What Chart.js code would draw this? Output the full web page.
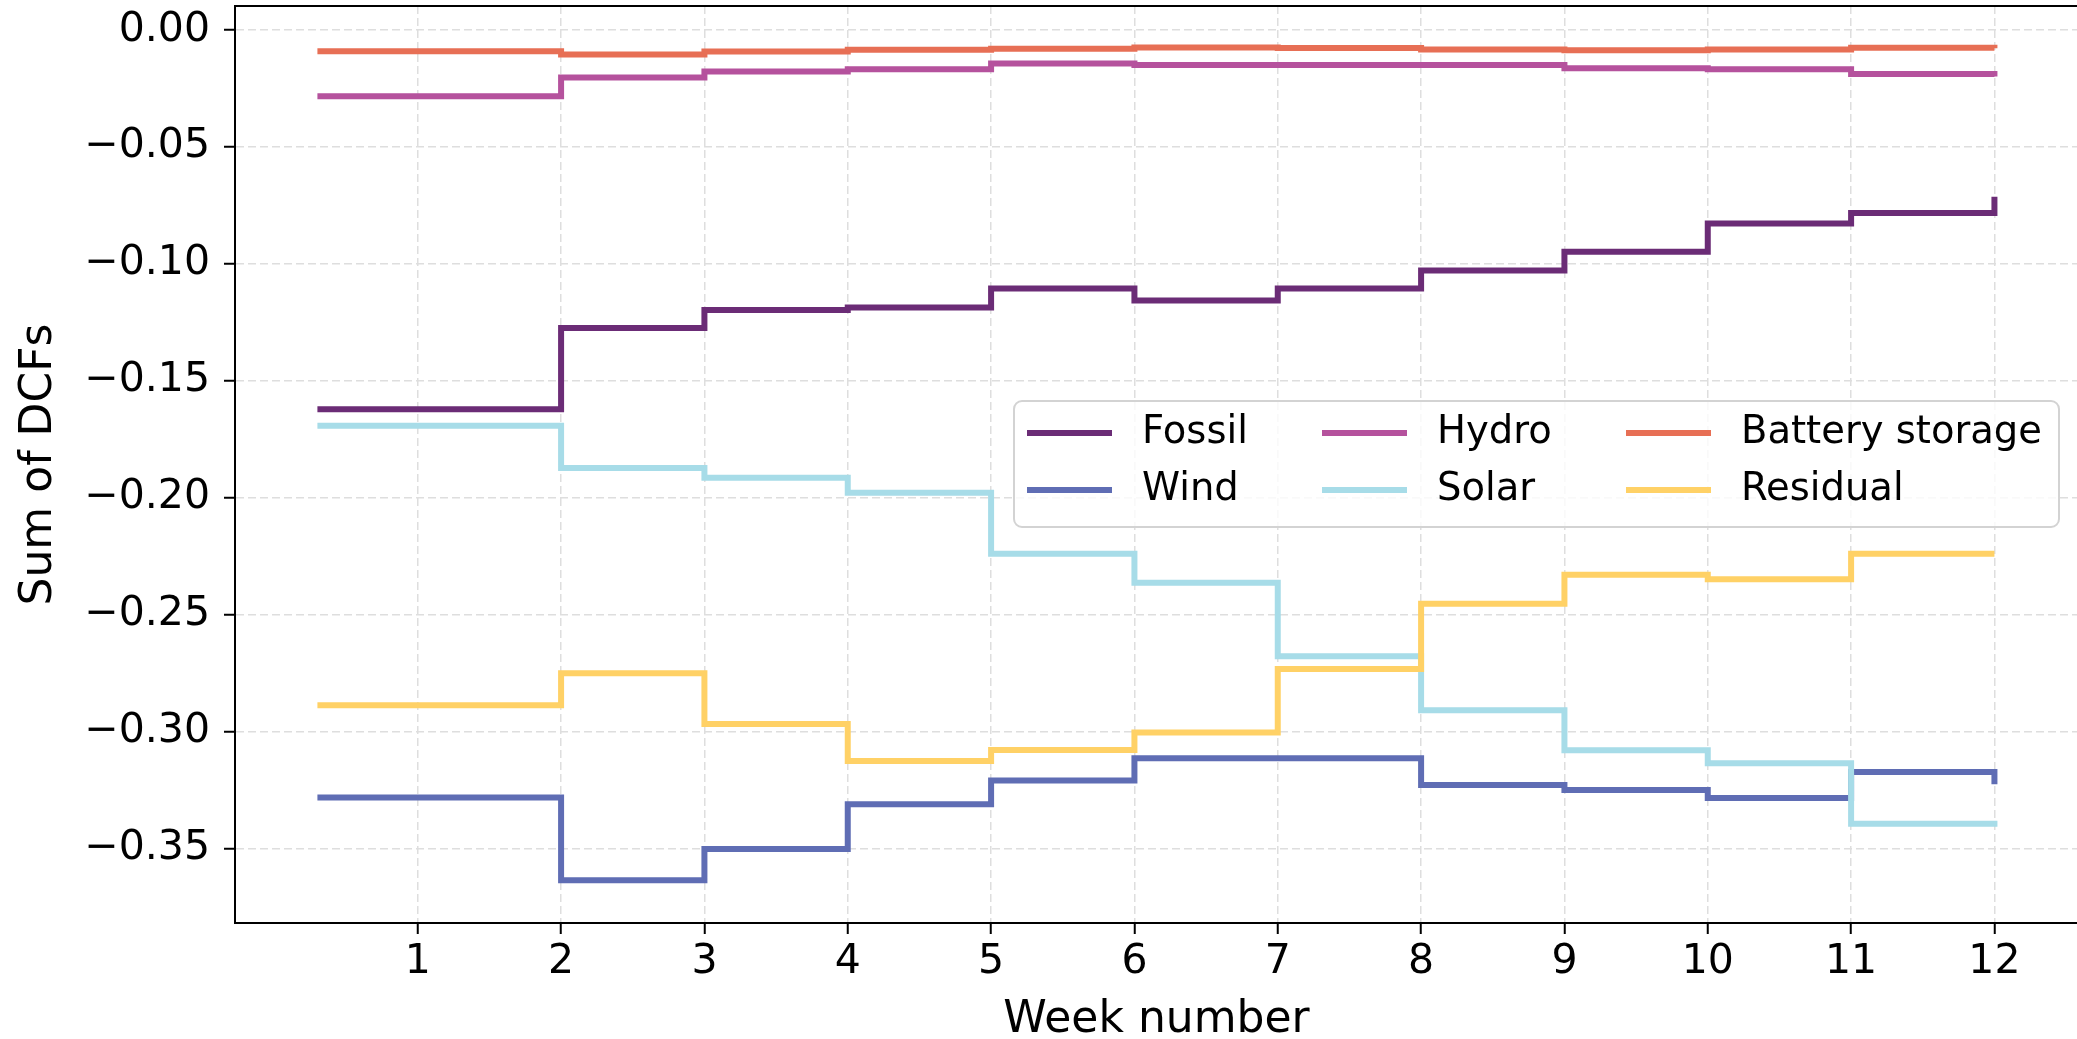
<!DOCTYPE html>
<html>
<head>
<meta charset="utf-8">
<title>Sum of DCFs by week</title>
<script src="https://cdn.jsdelivr.net/npm/chart.js@4.4.1/dist/chart.umd.min.js"></script>
<style>
  html, body { margin: 0; padding: 0; background: #fff; overflow: hidden; }
  #wrap { position: absolute; left: 0; top: 0; width: 2100px; height: 1039px; }
</style>
</head>
<body>
<div id="wrap"><canvas id="dcf-chart"></canvas></div>
<script>
// week positions of the step points (first point sits a bit before week 1)
const weeks = [0.3, 2, 3, 4, 5, 6, 7, 8, 9, 10, 11, 12];

const fossil   = [-0.1622, -0.1275, -0.1198, -0.1187, -0.1106, -0.1157, -0.1106, -0.1029, -0.0948, -0.0828, -0.0783, -0.0713];
const wind     = [-0.3281, -0.3635, -0.3502, -0.3310, -0.3209, -0.3114, -0.3114, -0.3228, -0.3249, -0.3284, -0.3173, -0.3225];
const hydro    = [-0.0284, -0.0204, -0.0178, -0.0168, -0.0144, -0.0150, -0.0150, -0.0150, -0.0164, -0.0168, -0.0189, -0.0199];
const solar    = [-0.1692, -0.1873, -0.1915, -0.1979, -0.2240, -0.2364, -0.2678, -0.2908, -0.3080, -0.3135, -0.3394, -0.3407];
const battery  = [-0.0091, -0.0105, -0.0092, -0.0085, -0.0081, -0.0075, -0.0078, -0.0084, -0.0087, -0.0084, -0.0077, -0.0079];
const residual = [-0.2887, -0.2750, -0.2967, -0.3125, -0.3078, -0.3004, -0.2732, -0.2453, -0.2329, -0.2348, -0.2240, -0.2240];

const seriesNames  = ['Fossil', 'Wind', 'Hydro', 'Solar', 'Battery storage', 'Residual'];
const seriesValues = [fossil, wind, hydro, solar, battery, residual];
const seriesColors = ['#6b2c76', '#5f6db4', '#b5529d', '#a7dce8', '#e76f55', '#ffd166'];

const xTicks = [1, 2, 3, 4, 5, 6, 7, 8, 9, 10, 11, 12];
const yTicks = [0, -0.05, -0.10, -0.15, -0.20, -0.25, -0.30, -0.35];

const FONT = 'DejaVu Sans';

const datasets = seriesNames.map((name, i) => ({
    label: name,
    data: weeks.map((w, j) => ({ x: w, y: seriesValues[i][j] })),
    borderColor: seriesColors[i],
    backgroundColor: seriesColors[i],
    borderWidth: 6,
    stepped: 'before',
    pointRadius: 0,
    fill: false,
    borderCapStyle: 'butt',
    borderJoinStyle: 'miter',
    // later series on top, like the original plotting order
    order: seriesNames.length - i
}));

// top and right frame lines (the axis borders only cover left/bottom)
const framePlugin = {
    id: 'frame',
    afterDatasetsDraw(chart) {
        const { ctx, chartArea } = chart;
        ctx.save();
        ctx.strokeStyle = '#000';
        ctx.lineWidth = 2;
        ctx.beginPath();
        ctx.moveTo(chartArea.left - 1, chartArea.top);
        ctx.lineTo(chartArea.right, chartArea.top);
        ctx.lineTo(chartArea.right, chartArea.bottom);
        ctx.stroke();
        ctx.restore();
    }
};

// three-column legend box inside the plot, filled column by column
const legendPlugin = {
    id: 'boxLegend',
    afterDraw(chart) {
        const { ctx } = chart;
        const box = { x: 1014, y: 401, w: 1045, h: 126, r: 8 };
        const colX = [1027, 1322, 1626];
        const rowY = [433, 490];
        ctx.save();
        ctx.beginPath();
        ctx.roundRect(box.x, box.y, box.w, box.h, box.r);
        ctx.fillStyle = 'rgba(255,255,255,0.8)';
        ctx.fill();
        ctx.lineWidth = 2;
        ctx.strokeStyle = '#d3d3d3';
        ctx.stroke();

        ctx.font = '38.5px "' + FONT + '"';
        ctx.textBaseline = 'middle';
        ctx.textAlign = 'left';
        chart.data.datasets.forEach((ds, i) => {
            const col = Math.floor(i / 2);
            const row = i % 2;
            const x = colX[col];
            const y = rowY[row];
            ctx.strokeStyle = ds.borderColor;
            ctx.lineWidth = 6;
            ctx.beginPath();
            ctx.moveTo(x, y);
            ctx.lineTo(x + 85, y);
            ctx.stroke();
            ctx.fillStyle = '#000';
            ctx.fillText(ds.label, x + 115, y);
        });
        ctx.restore();
    }
};

const fmt = v => {
    const s = Math.abs(v).toFixed(2);
    return v < -1e-9 ? '\u2212' + s : s;
};

new Chart(document.getElementById('dcf-chart').getContext('2d'), {
    type: 'line',
    data: { datasets },
    options: {
        responsive: true,
        maintainAspectRatio: false,
        animation: false,
        devicePixelRatio: 1,
        layout: { padding: { top: 6, right: 22, bottom: 0, left: 0 } },
        plugins: {
            legend: { display: false },
            tooltip: { enabled: false }
        },
        scales: {
            x: {
                type: 'linear',
                min: -0.275,
                max: 12.583,
                afterBuildTicks: scale => { scale.ticks = xTicks.map(v => ({ value: v })); },
                afterFit: scale => {
                    scale.height = 116;
                    scale.paddingLeft = 0;
                    scale.paddingRight = 0;
                },
                ticks: {
                    autoSkip: false,
                    maxRotation: 0,
                    padding: 4,
                    color: '#000',
                    font: { family: FONT, size: 41 },
                    callback: v => String(v)
                },
                grid: {
                    color: '#dedede',
                    lineWidth: 1.5,
                    tickLength: 11,
                    tickColor: '#000',
                    tickWidth: 2
                },
                border: { display: true, color: '#000', width: 2, dash: [8, 4] },
                title: {
                    display: true,
                    text: 'Week number',
                    color: '#000',
                    font: { family: FONT, size: 44, lineHeight: 0.96 },
                    padding: { top: 0, bottom: -3 }
                }
            },
            y: {
                type: 'linear',
                min: -0.3818,
                max: 0.0102,
                afterBuildTicks: scale => { scale.ticks = yTicks.map(v => ({ value: v })); },
                afterFit: scale => {
                    scale.width = 235;
                    scale.paddingTop = 0;
                    scale.paddingBottom = 0;
                },
                ticks: {
                    padding: 14,
                    color: '#000',
                    font: { family: FONT, size: 41 },
                    callback: v => fmt(v)
                },
                grid: {
                    color: '#dedede',
                    lineWidth: 1.5,
                    tickLength: 11,
                    tickColor: '#000',
                    tickWidth: 2
                },
                border: { display: true, color: '#000', width: 2, dash: [8, 4] },
                title: {
                    display: true,
                    text: 'Sum of DCFs',
                    color: '#000',
                    font: { family: FONT, size: 44, lineHeight: 0.96 },
                    padding: { top: 18, bottom: 0 }
                }
            }
        }
    },
    plugins: [framePlugin, legendPlugin]
});
</script>
</body>
</html>
